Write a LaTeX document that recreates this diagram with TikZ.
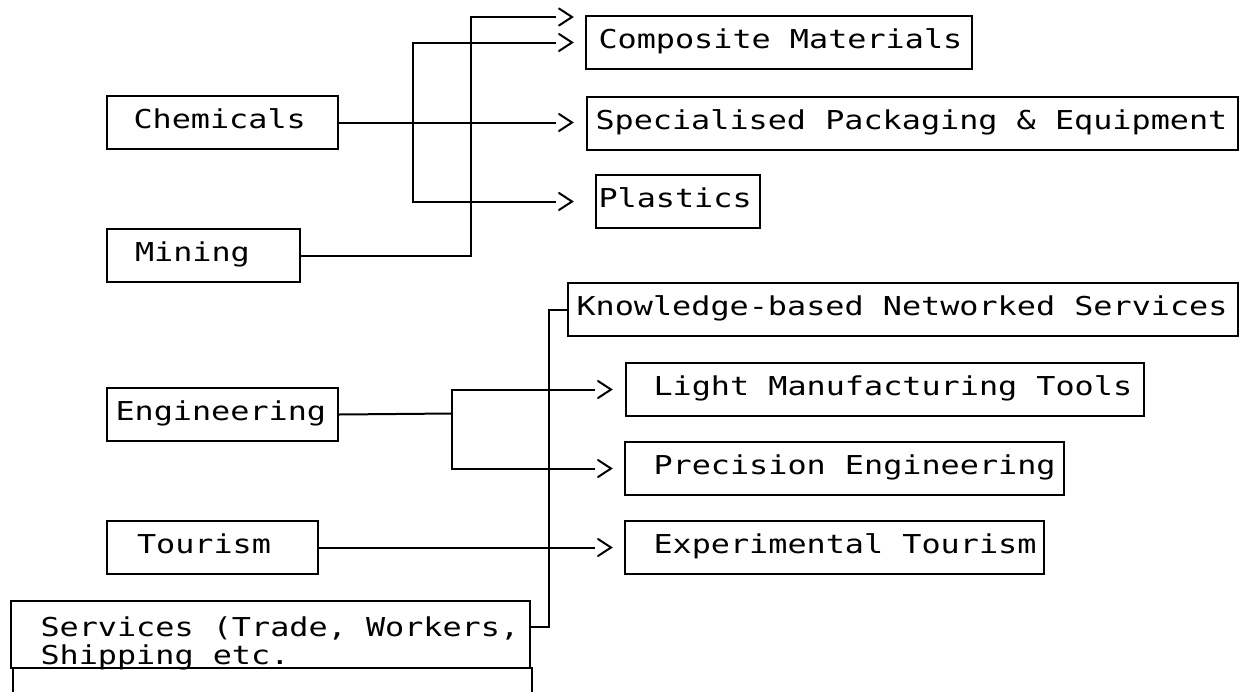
\documentclass[tikz,border=0pt]{standalone}
\usepackage{fontspec}
\newfontfamily\boxmono[FakeStretch=1.2233]{DejaVu Sans Mono}
\usetikzlibrary{arrows.meta,calc}
\pgfdeclarearrow{
  name = gtglyph,
  setup code = {
    \pgfarrowssettipend{1pt}
    \pgfarrowssetlineend{-16pt}
    \pgfarrowssetvisualbackend{-13pt}
    \pgfarrowssetbackend{-14pt}
    \pgfarrowshullpoint{-13pt}{8.5pt}
    \pgfarrowshullpoint{-13pt}{-8.5pt}
    \pgfarrowshullpoint{1pt}{0pt}
  },
  drawing code = {
    \pgfsetdash{}{0pt}
    \pgfsetmiterjoin
    \pgfsetroundcap
    \pgfpathmoveto{\pgfqpoint{-13pt}{8.5pt}}
    \pgfpathlineto{\pgfqpoint{0pt}{0pt}}
    \pgfpathlineto{\pgfqpoint{-13pt}{-8.5pt}}
    \pgfusepathqstroke
  }
}
\tikzset{
  lbl/.style={draw, line width=2pt, anchor=north west, inner sep=0pt,
    text height=32pt, text depth=21pt,
    font=\boxmono\fontsize{26pt}{28pt}\selectfont},
  link/.style={line width=2pt},
  arr/.style={link, -{gtglyph}},
}
\newcommand\boxtext[3]{\makebox[#1pt][l]{\hspace{#2pt}#3}}
\begin{document}
\begin{tikzpicture}[x=1pt,y=-1pt]
\useasboundingbox (0,0) rectangle (1244,691);
% right column
\node[lbl] (comp)  at (585,15)  {\boxtext{386}{12.5}{Composite Materials}};
\node[lbl] (spec)  at (586,96)  {\boxtext{651}{8.5}{Specialised Packaging \& Equipment}};
\node[lbl] (plast) at (595,174) {\boxtext{164}{2.5}{Plastics}};
\node[lbl] (know)  at (567,282) {\boxtext{670}{8.5}{Knowledge-based Networked Services}};
\node[lbl] (light) at (625,362) {\boxtext{518}{27.5}{Light Manufacturing Tools}};
\node[lbl] (prec)  at (624,441) {\boxtext{439}{28.5}{Precision Engineering}};
\node[lbl] (exp)   at (624,520) {\boxtext{419}{28.5}{Experimental Tourism}};
% left column
\node[lbl] (chem)  at (106,95)  {\boxtext{231}{26.5}{Chemicals}};
\node[lbl] (mine)  at (106,228) {\boxtext{193}{28}{Mining}};
\node[lbl] (eng)   at (106,387) {\boxtext{231}{8.5}{Engineering}};
\node[lbl] (tour)  at (106,520) {\boxtext{211}{30}{Tourism}};
\node[lbl, text height=63pt, text depth=4pt] (serv) at (10,600)
  {\boxtext{519}{29.5}{\parbox[b]{480pt}{\baselineskip=28pt Services (Trade, Workers,\\Shipping etc.}}};
\node[lbl, text height=0pt, text depth=40pt] (servlow) at (12,667) {\makebox[519pt]{}};
% coordinates
\coordinate (j1) at (413,121.5);
\coordinate (mcorner) at (471,17);
\coordinate (mtip) at (573,17);
\coordinate (ej) at (452,413.5);
% connectors
\draw[arr, shorten >=13pt] (chem.east) -- (chem.east -| spec.west);
\draw[arr, shorten >=12pt] (j1) |- (comp.west);
\draw[arr, shorten >=22pt] (j1) |- (plast.west);
\draw[arr] (mine.east) -| (mcorner) -- (mtip);
\draw[link] (eng.east) -- (ej);
\draw[arr, shorten >=13pt] (ej) |- (light.west);
\draw[arr, shorten >=12pt] (ej) |- (prec.west);
\draw[arr, shorten >=12pt] (tour.east) -- (tour.east -| exp.west);
\draw[link] ([yshift=7.5pt]serv.east) -- ++(18,0) |- (know.west);
\end{tikzpicture}
\end{document}
